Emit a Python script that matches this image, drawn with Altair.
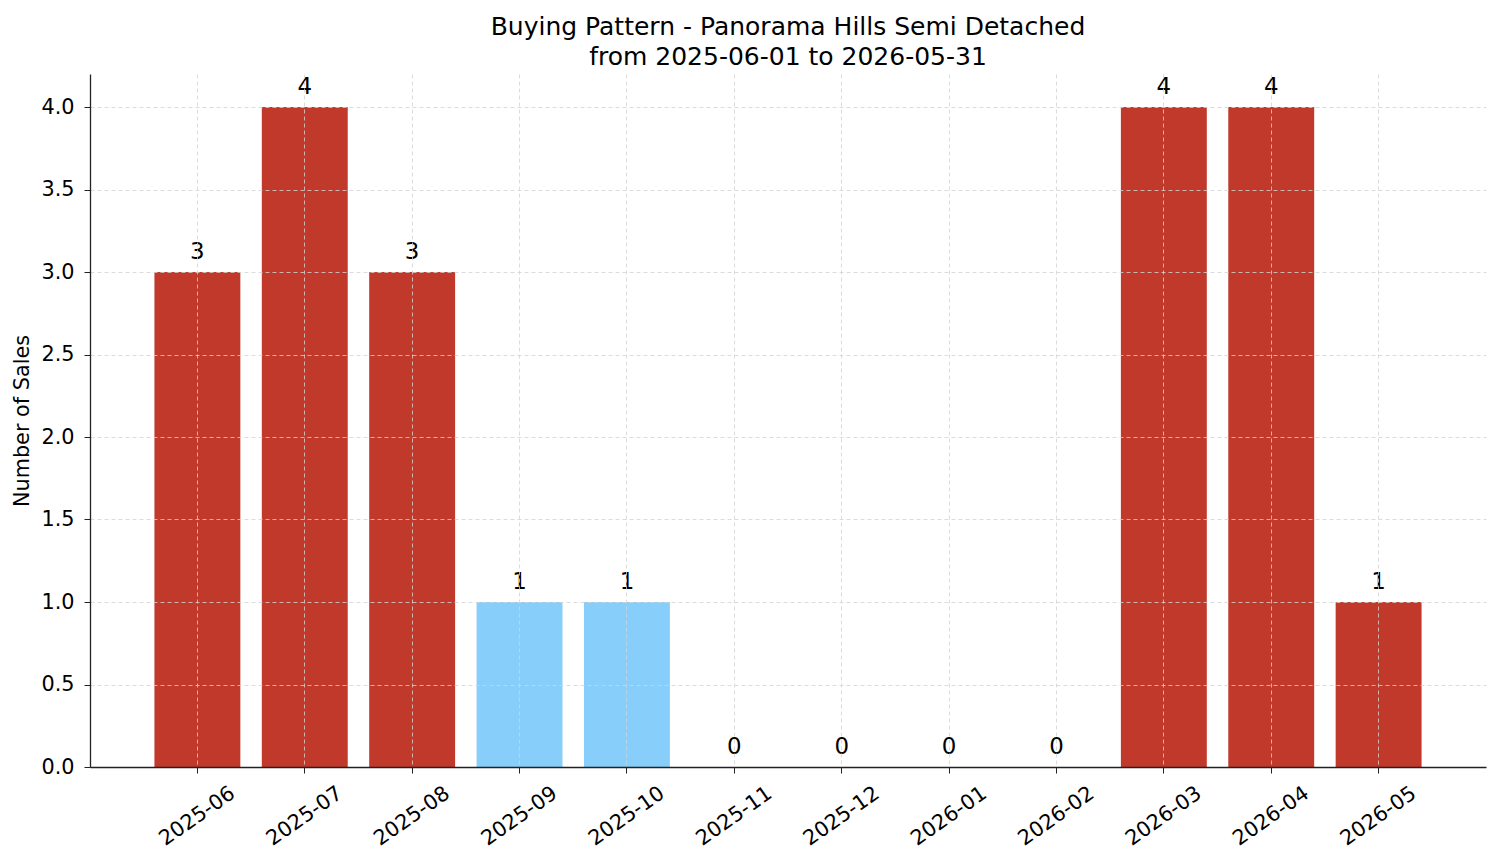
import altair as alt
import pandas as pd

months = ["2025-06", "2025-07", "2025-08", "2025-09", "2025-10", "2025-11",
          "2025-12", "2026-01", "2026-02", "2026-03", "2026-04", "2026-05"]
sales = [3, 4, 3, 1, 1, 0, 0, 0, 0, 4, 4, 1]
colors = ["#c0392b", "#c0392b", "#c0392b", "#87cefa", "#87cefa", "#c0392b",
          "#c0392b", "#c0392b", "#c0392b", "#c0392b", "#c0392b", "#c0392b"]

df = pd.DataFrame({"Month": months, "Sales": sales, "Color": colors})

FONT = "DejaVu Sans"

x_enc = alt.X("Month:N", sort=months, title=None,
              scale=alt.Scale(paddingInner=0.2, paddingOuter=0.6),
              axis=alt.Axis(labelAngle=-35, labelAlign="center", labelBaseline="middle",
                            labelPadding=43, tickSize=6, bandPosition=0.5,
                            grid=True, gridDash=[4, 3], gridColor="#d3d3d3", gridWidth=0.8,
                            domainColor="#222222", tickColor="#222222", domainWidth=1.3,
                            labelFont=FONT, labelFontSize=20.8, labelColor="#000000",
                            zindex=1))
y_enc = alt.Y("Sales:Q", title="Number of Sales",
              scale=alt.Scale(domain=[0, 4.2], nice=False),
              axis=alt.Axis(values=[0, 0.5, 1, 1.5, 2, 2.5, 3, 3.5, 4], format=".1f",
                            tickSize=6, labelPadding=10,
                            grid=True, gridDash=[4, 3], gridColor="#d3d3d3", gridWidth=0.8,
                            domainColor="#222222", tickColor="#222222", domainWidth=1.3,
                            labelFont=FONT, labelFontSize=20.8, labelColor="#000000",
                            titleFont=FONT, titleFontSize=20.8, titleFontWeight="normal",
                            titleColor="#000000", titlePadding=8, zindex=1))

bars = alt.Chart(df).mark_bar().encode(
    x=x_enc, y=y_enc, color=alt.Color("Color:N", scale=None)
)

labels = alt.Chart(df).mark_text(
    font=FONT, fontSize=22.9, color="#000000", baseline="alphabetic", dy=-13
).encode(x=alt.X("Month:N", sort=months), y="Sales:Q", text="Sales:Q")

chart = alt.layer(bars, labels).properties(
    width=1396, height=693,
    background="white",
    title=alt.TitleParams(
        ["Buying Pattern - Panorama Hills Semi Detached", "from 2025-06-01 to 2026-05-31"],
        font=FONT, fontSize=25, fontWeight="normal", color="#000000",
        lineHeight=30, offset=4, anchor="middle"),
    autosize=alt.AutoSizeParams(type="none"),
    padding={"left": 90, "top": 74, "right": 15, "bottom": 96},
).configure_view(strokeWidth=0, stroke="transparent")

chart.save("out.html", embed_options={"renderer": "svg", "actions": False})
